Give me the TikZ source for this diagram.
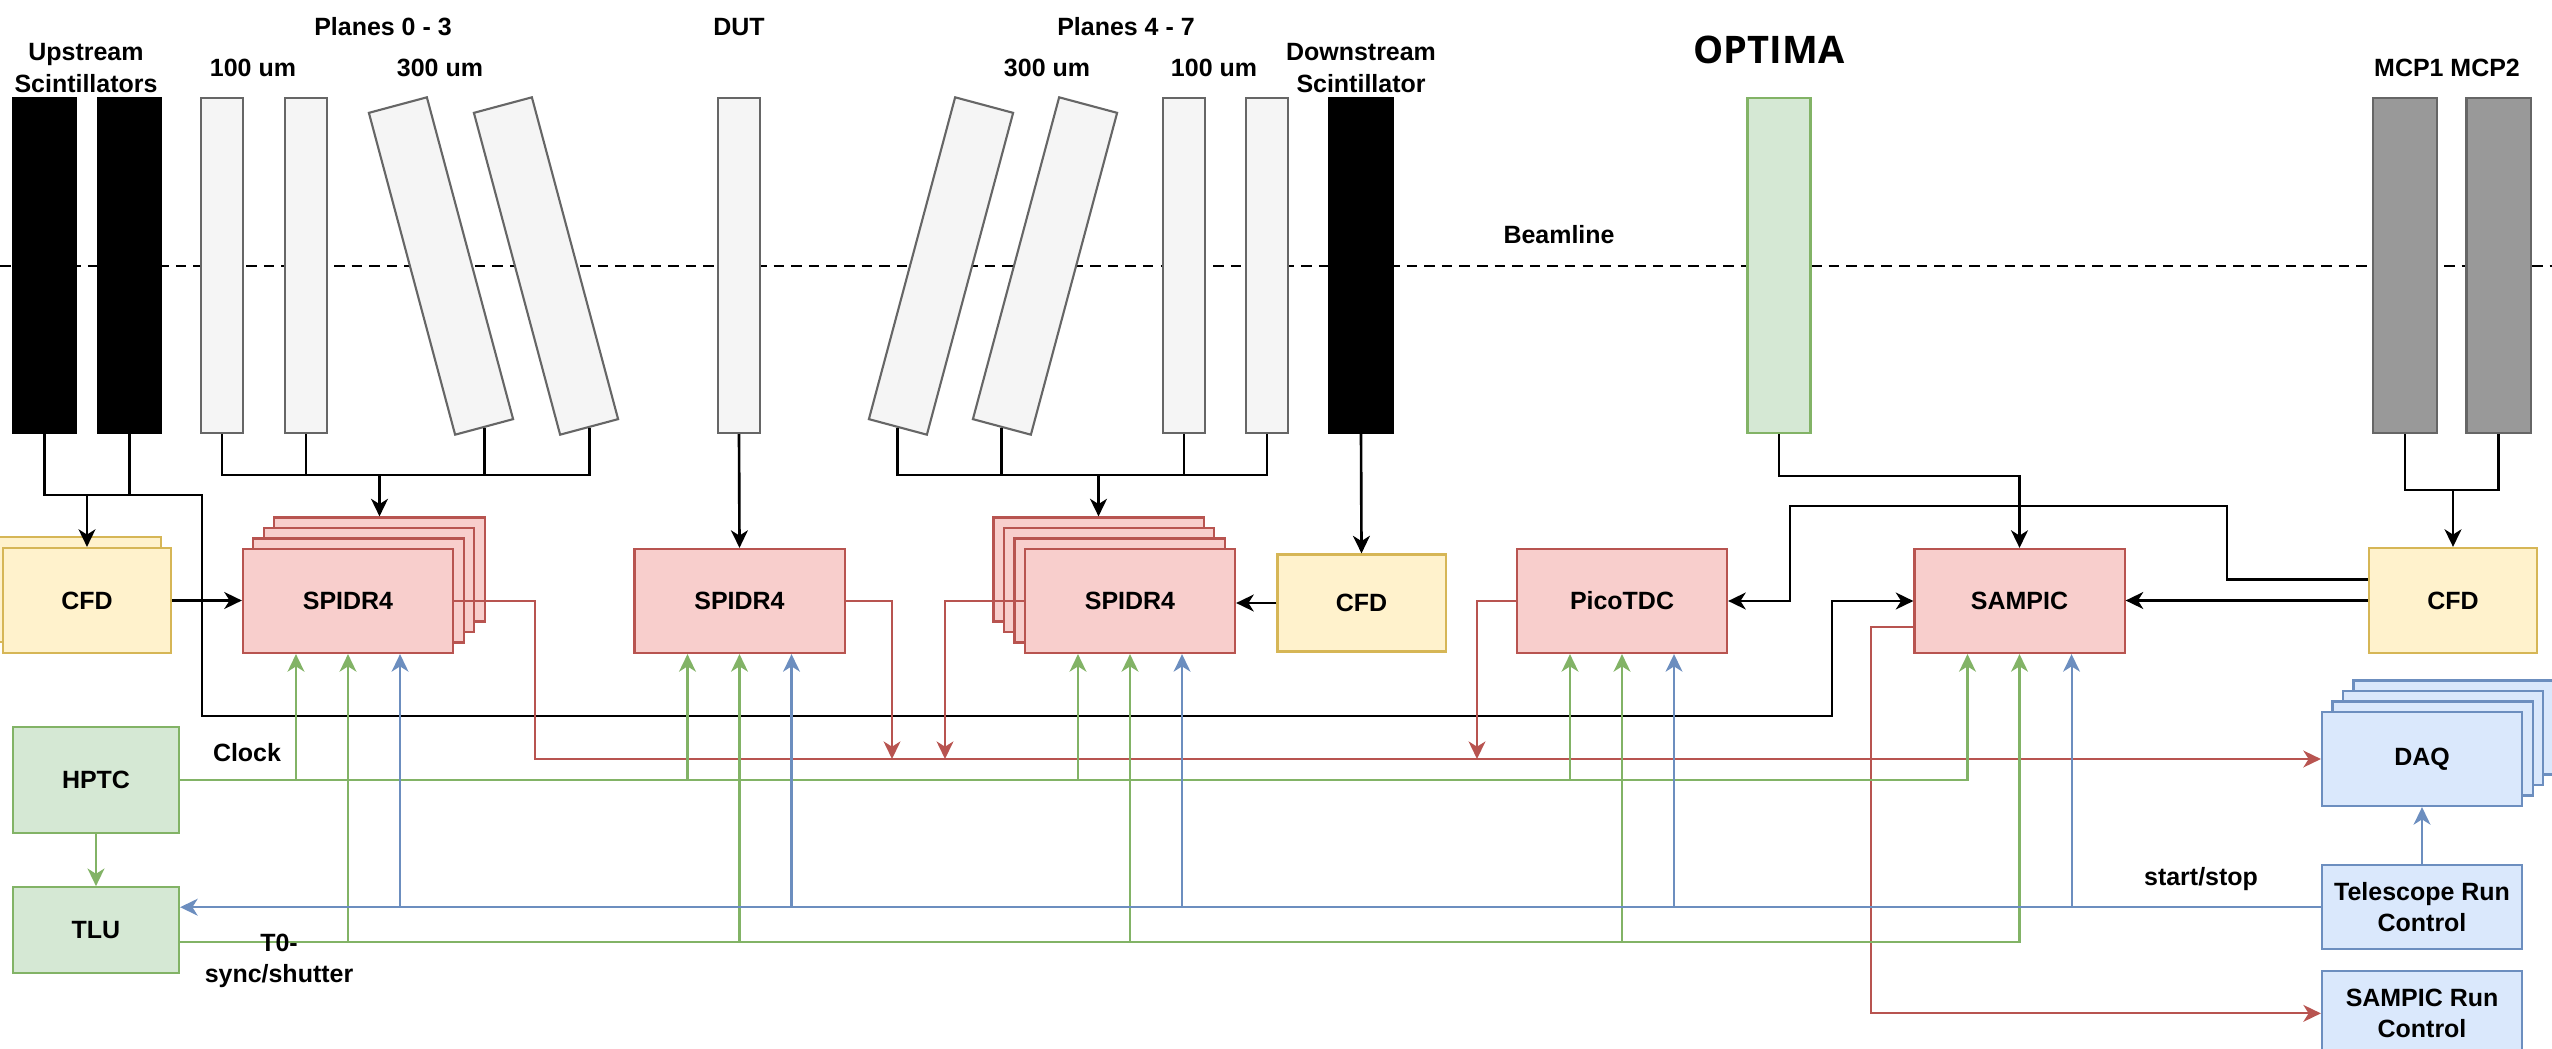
\documentclass[tikz,border=0pt]{standalone}
\usepackage{fontspec}
\setmainfont{Liberation Sans}
\newfontfamily\titlefont{Open Sans}
\usepackage{tikz}
\usetikzlibrary{arrows.meta,positioning}

\definecolor{redfill}{HTML}{F8CECC}
\definecolor{redline}{HTML}{B85450}
\definecolor{yelfill}{HTML}{FFF2CC}
\definecolor{yelline}{HTML}{D6B656}
\definecolor{grnfill}{HTML}{D5E8D4}
\definecolor{grnline}{HTML}{82B366}
\definecolor{blufill}{HTML}{DAE8FC}
\definecolor{bluline}{HTML}{6C8EBF}
\definecolor{planefill}{HTML}{F5F5F5}
\definecolor{planeline}{HTML}{666666}
\definecolor{mcpfill}{HTML}{999999}

\begin{document}
\begin{tikzpicture}[
    x=0.01cm, y=-0.01cm,
    >={Stealth[length=5pt,width=4.8pt,inset=1.5pt]},
    font=\bfseries\fontsize{7.1}{9}\selectfont,
    box/.style={
		rectangle,
		draw,
		line width=0.6pt,
		inner sep=0pt,
		text centered,
		align=center
	},
    module/.style={box, draw=redline, fill=redfill, minimum width=2.1cm, minimum height=1.04cm},
    cfdbox/.style={box, draw=yelline, fill=yelfill, minimum width=1.68cm, minimum height=1.05cm},
    timing/.style={box, draw=grnline, fill=grnfill, minimum width=1.66cm},
    runbox/.style={box, draw=bluline, fill=blufill, minimum width=2cm, minimum height=0.84cm},
    scint/.style={box, draw=black, fill=black, minimum width=0.63cm, minimum height=3.35cm},
    plane/.style={box, draw=planeline, fill=planefill, minimum width=0.42cm, minimum height=3.35cm},
    tilted/.style={plane, minimum width=0.6cm, minimum height=3.33cm},
    mcpbox/.style={box, draw=planeline, fill=mcpfill, minimum width=0.64cm, minimum height=3.35cm},
    wire/.style={line width=0.75pt},
    dataline/.style={draw=redline, line width=0.6pt},
    clockline/.style={draw=grnline, line width=0.6pt},
    ctrlline/.style={draw=bluline, line width=0.6pt},
    note/.style={inner sep=0pt, align=center}
  ]
  \useasboundingbox (0,0) rectangle (2552,1049);

  % beamline first, the planes sit on top of it
  \draw [dash pattern=on 3pt off 2pt, line width=0.45pt] (0,266) -- (2552,266);
  \node [note] (beamLbl) at (1559,235) {Beamline};

  % detectors along the beam
  \node [scint] (scA) at (44.5,265.5) {};
  \node [scint] (scB) at (129.5,265.5) {};
  \node [plane] (pl0) at (222,265.5) {};
  \node [plane] (pl1) at (306,265.5) {};
  \node [tilted, rotate=15] (pl2) at (441,266) {};
  \node [tilted, rotate=15] (pl3) at (546,266) {};
  \node [plane] (dut) at (739,265.5) {};
  \node [tilted, rotate=-15] (pl4) at (941,266) {};
  \node [tilted, rotate=-15] (pl5) at (1045,266) {};
  \node [plane] (pl6) at (1184,265.5) {};
  \node [plane] (pl7) at (1267,265.5) {};
  \node [scint] (scD) at (1361,265.5) {};
  \node [scint, draw=grnline, fill=grnfill] (optima) at (1779,265.5) {};
  \node [mcpbox] (mcpA) at (2405,265.5) {};
  \node [mcpbox] (mcpB) at (2498.5,265.5) {};

  \node [note] (upLbl) at (86,68) {Upstream\\Scintillators};
  \node [note] (planesA) at (383,27) {Planes 0 - 3};
  \node [note] (thinA) at (253,68) {100 um};
  \node [note] (thickA) at (440,68) {300 um};
  \node [note] (dutLbl) at (739,27) {DUT};
  \node [note] (planesB) at (1126,27) {Planes 4 - 7};
  \node [note] (thickB) at (1047,68) {300 um};
  \node [note] (thinB) at (1214,68) {100 um};
  \node [note] (downLbl) at (1361,68) {Downstream\\Scintillator};
  \node [note, font=\titlefont\bfseries\fontsize{10.8}{13}\selectfont] (optimaLbl) at (1769,50) {OPTIMA};
  \node [note] (mcpLbl) at (2447,68) {MCP1 MCP2};

  % read-out boxes
  \node [cfdbox] (cfdU1) at (77,589.5) {};
  \node [cfdbox] (cfdU) at (87,600.5) {CFD};
  \foreach \k in {3,2,1}
    \node [module] (spA\k) at ({348+10.5*\k},{601-10.5*\k}) {};
  \node [module] (spA) at (348,601) {SPIDR4};
  \node [module] (spB) at (739.5,601) {SPIDR4};
  \foreach \k in {3,2,1}
    \node [module] (spC\k) at ({1130-10.5*\k},{601-10.5*\k}) {};
  \node [module] (spC) at (1130,601) {SPIDR4};
  \node [cfdbox, minimum height=0.97cm] (cfdD) at (1361.5,603) {CFD};
  \node [module] (pico) at (1622,601) {PicoTDC};
  \node [module] (sampic) at (2019.5,601) {SAMPIC};
  \node [cfdbox] (cfdM) at (2453,600.5) {CFD};

  \node [timing, minimum height=1.06cm] (hptc) at (96,780) {HPTC};
  \node [timing, minimum height=0.86cm, below=0.52cm of hptc] (tlu) {TLU};

  \foreach \k in {3,2,1}
    \node [runbox, minimum height=0.94cm] (daq\k) at ({2422+10.5*\k},{759-10.5*\k}) {};
  \node [runbox, minimum height=0.94cm] (daq) at (2422,759) {DAQ};
  \node [runbox, below=0.57cm of daq] (trc) {Telescope Run\\Control};
  \node [runbox, below=0.2cm of trc] (src) {SAMPIC Run\\Control};

  % signals from the detectors
  \coordinate (jU) at (202,495);
  \draw [wire] (scB.south) -- (scB.south |- jU);
  \draw [wire,->] (scA.south) |- (jU) |- (1832,716) |- (sampic.west);
  \draw [wire,->] (cfdU.north |- jU) -- (cfdU.north);
  \coordinate (busA) at (379.5,475);
  \foreach \p in {pl0,pl1,pl2,pl3}
    \draw [wire] (\p.south) |- (busA);
  \draw [wire,->] (busA) -- (spA3.north);
  \draw [wire,->] (dut.south) -- (spB.north);
  \coordinate (busC) at (1098.5,475);
  \foreach \p in {pl4,pl5,pl6,pl7}
    \draw [wire] (\p.south) |- (busC);
  \draw [wire,->] (busC) -- (spC3.north);
  \draw [wire,->] (scD.south) -- (cfdD.north);
  \draw [wire,->] (optima.south) -- ++(0,42) -| (sampic.north);
  \coordinate (jM) at (2453,490);
  \draw [wire] (mcpA.south) |- (jM);
  \draw [wire] (mcpB.south) |- (jM);
  \draw [wire,->] (jM) -- (cfdM.north);
  \draw [wire,->] (cfdU.east) -- (spA.west |- cfdU.east);
  \draw [wire,->] (cfdD.west) -- (spC.east |- cfdD.west);
  \draw [wire,->] (cfdM.west) -- (sampic.east |- cfdM.west);
  \draw [wire,->] ([yshift=2.1mm]cfdM.west) -| (2227,506) -| (1790,601) -- (pico.east);

  % data to DAQ
  \draw [dataline,->] (spA.east) -| (535,759) -- (daq.west);
  \draw [dataline,->] (spB.east) -| (892,759);
  \draw [dataline,->] (spC.west) -| (945,759);
  \draw [dataline,->] (pico.west) -| (1477,759);
  \draw [dataline,->] ([yshift=-2.6mm]sampic.west) -- ++(-42,0) |- (src.west);

  % clock and T0
  \draw [clockline,->] (hptc.south) -- (tlu.north);
  \draw [clockline,->] (hptc.east) -| ([xshift=-5.2mm]sampic.south);
  \draw [clockline,->] ([yshift=-1.2mm]tlu.east) -| (sampic.south);
  \foreach \m in {spA,spB,spC,pico}{
    \draw [clockline,<-] ([xshift=-5.2mm]\m.south) -- ++(0,127);
    \draw [clockline,<-] (\m.south) -- ++(0,287);
  }

  % run control
  \draw [ctrlline,->] (trc.west) -- (tlu.east |- trc.west);
  \foreach \m in {spA,spB,spC,pico,sampic}
    \draw [ctrlline,<-] ([xshift=5.2mm]\m.south) -- ++(0,252);
  \draw [ctrlline,->] (trc.north) -- (daq.south);

  \node [note] (clockLbl) at (247,753) {Clock};
  \node [note] (syncLbl) at (279,961) {T0-\\sync/shutter};
  \node [note] (startLbl) at (2201,879) {start/stop};
\end{tikzpicture}
\end{document}
